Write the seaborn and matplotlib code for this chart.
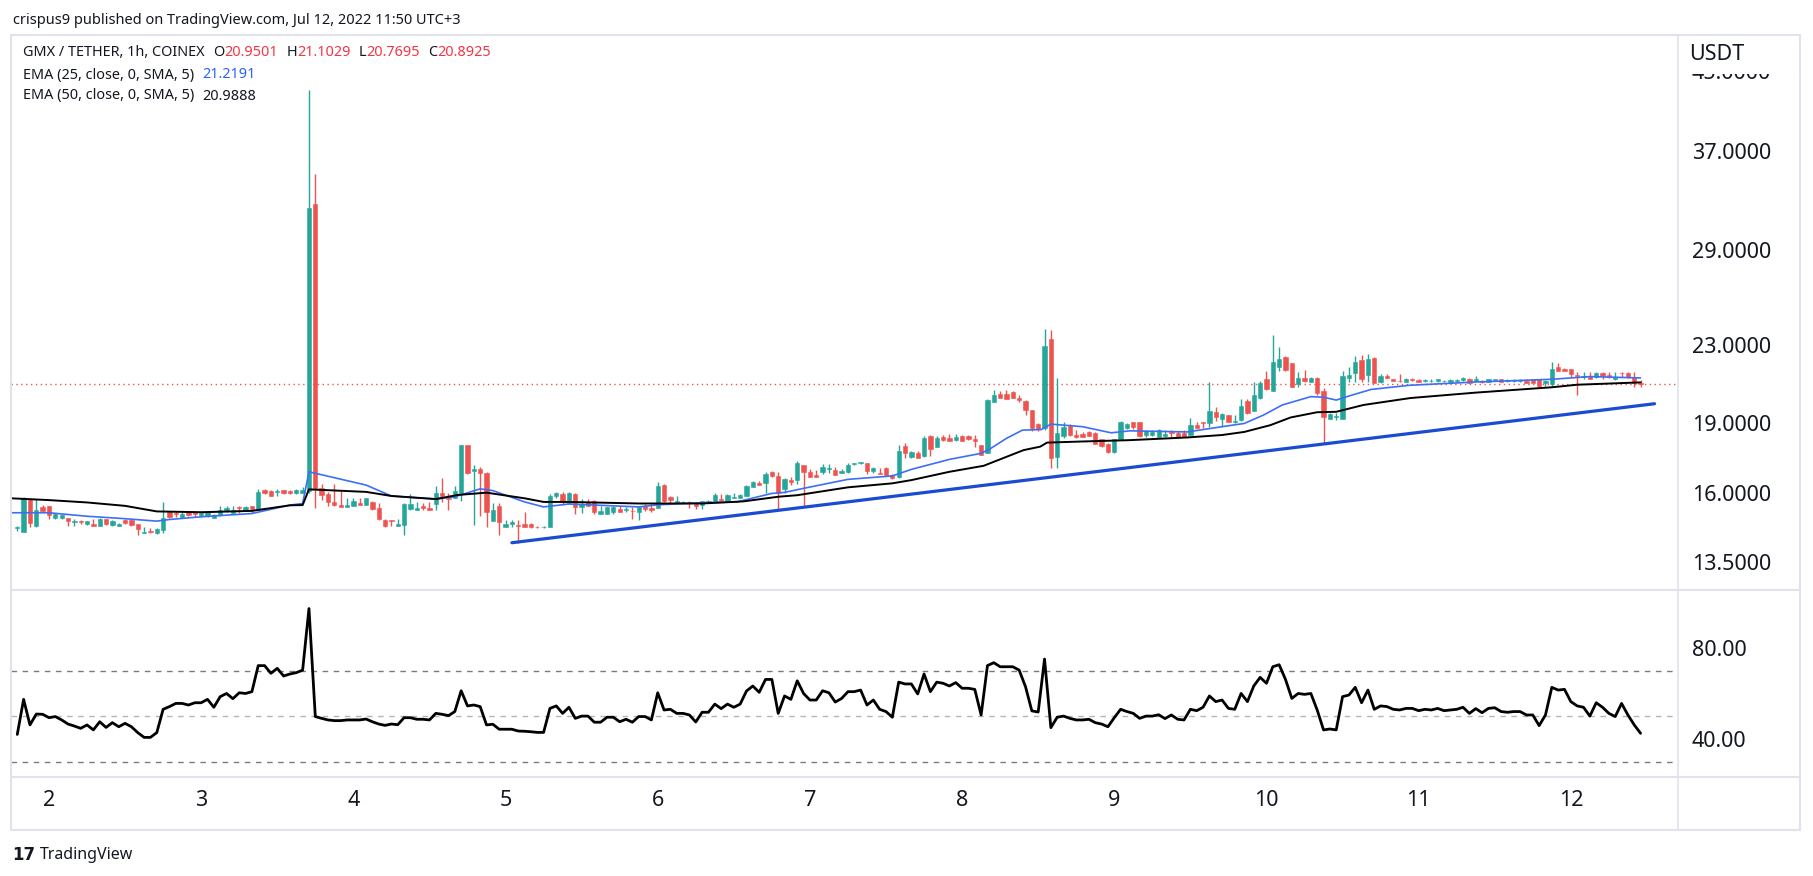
import numpy as np
import matplotlib
matplotlib.use("Agg")
import matplotlib.pyplot as plt
import seaborn as sns
from matplotlib.lines import Line2D
from matplotlib.patches import Rectangle
from matplotlib.ticker import NullLocator, FixedLocator

# ---------------- data (hourly candles, first candle = Jul 1 19:00) ----------------
opens = [14.70,14.55,15.73,14.75,15.47,15.50,15.07,15.07,15.04,14.91,14.93,14.82,14.85,14.78,15.00,14.79,14.78,14.98,14.98,14.83,
 14.52,14.59,14.50,14.61,15.27,15.25,15.10,15.27,15.27,15.16,15.12,15.07,15.16,15.32,15.25,15.47,15.32,15.50,15.37,16.12,
 16.08,16.04,16.11,16.08,16.00,16.02,16.10,32.49,16.19,15.96,15.64,15.53,15.47,15.51,15.62,15.55,15.65,15.41,14.98,14.98,
 14.75,14.80,15.38,15.37,15.50,15.42,15.58,15.99,15.83,15.83,15.99,18.00,16.88,16.97,16.83,14.95,15.50,14.73,14.85,14.79,
 14.85,14.85,14.73,14.71,14.73,15.89,15.96,15.60,15.96,15.45,15.65,15.69,15.22,15.22,15.27,15.40,15.35,15.32,15.29,15.50,
 15.42,15.42,16.32,15.86,15.63,15.63,15.65,15.58,15.55,15.65,15.66,15.77,15.69,15.83,15.82,15.89,16.26,16.42,16.39,16.85,
 16.69,16.18,16.52,16.52,17.16,16.85,16.74,16.85,16.99,16.93,16.82,16.85,17.18,17.22,17.21,16.90,16.82,17.01,16.73,16.63,
 17.96,17.49,17.67,17.52,18.40,17.93,18.34,18.31,18.22,18.40,18.42,18.25,18.00,17.67,20.02,20.40,20.40,20.50,20.22,20.05,
 19.61,18.95,18.75,23.32,17.49,18.40,18.87,18.46,18.49,18.59,18.55,18.25,18.07,17.69,18.28,18.77,19.03,19.03,18.45,18.45,
 18.37,18.40,18.59,18.55,18.55,18.45,18.92,19.04,18.98,19.50,19.18,19.37,19.03,19.14,20.07,19.58,20.18,21.16,20.57,21.81,
 22.33,21.99,20.89,21.20,21.03,21.20,20.55,19.21,19.26,19.21,21.24,21.46,22.17,21.39,22.28,21.00,21.31,21.16,21.08,21.03,
 21.16,21.11,21.06,21.04,21.04,21.04,21.03,21.06,21.11,21.16,21.08,21.08,21.01,21.11,21.14,21.06,21.04,21.04,21.08,21.14,
 21.14,20.94,20.91,21.78,21.69,21.67,21.36,21.26,21.32,21.26,21.50,21.36,21.14,21.50,21.50,21.29,20.9501]
highs = [14.75,15.85,15.80,15.77,15.53,15.52,15.25,15.22,15.06,15.02,14.99,14.96,15.00,15.04,15.03,14.98,14.88,15.03,15.00,14.85,
 14.71,14.69,14.69,15.65,15.30,15.32,15.27,15.32,15.32,15.32,15.31,15.22,15.50,15.50,15.50,15.50,15.50,15.52,16.18,16.18,
 16.12,16.15,16.14,16.11,16.15,16.25,42.96,35.00,16.36,16.05,16.36,16.10,15.82,15.80,15.80,15.83,15.68,15.60,15.00,14.99,
 15.00,15.63,15.95,15.65,15.62,15.65,16.28,16.59,16.02,16.28,18.00,18.00,17.16,17.04,16.86,15.60,15.60,14.98,14.98,14.98,
 15.27,14.86,14.75,14.75,15.96,16.05,16.05,16.05,15.99,15.78,15.78,15.75,15.50,15.47,15.50,15.50,15.47,15.47,15.50,15.58,
 15.58,16.44,16.36,15.89,15.89,15.69,15.69,15.66,15.71,15.73,16.02,15.96,15.95,16.02,15.96,16.32,16.50,16.49,16.85,16.88,
 16.85,16.59,16.66,17.32,17.16,16.96,16.93,17.18,17.18,17.04,16.96,17.21,17.24,17.26,17.24,17.04,17.00,17.04,16.76,17.99,
 18.11,17.76,17.76,18.40,18.43,18.40,18.43,18.49,18.49,18.45,18.45,18.46,18.02,20.13,20.60,20.55,20.60,20.53,20.35,20.08,
 19.64,19.01,23.95,23.86,21.20,19.03,18.94,18.70,18.59,18.62,18.58,18.28,18.11,18.29,19.11,19.01,19.06,19.06,18.69,18.69,
 18.73,18.70,18.67,18.64,18.67,19.23,19.03,19.07,21.00,19.77,19.45,19.40,19.37,20.13,20.15,21.03,21.06,21.59,23.57,22.91,
 22.39,22.03,21.55,21.64,21.29,21.29,20.69,19.45,19.45,21.59,21.81,22.39,22.44,22.50,22.31,21.43,21.43,21.18,21.43,21.21,
 21.21,21.14,21.18,21.16,21.18,21.11,21.14,21.14,21.26,21.20,21.32,21.11,21.18,21.16,21.18,21.14,21.14,21.16,21.14,21.18,
 21.18,21.11,22.06,21.99,21.73,21.71,21.53,21.53,21.53,21.53,21.53,21.53,21.53,21.53,21.53,21.55,21.1029]
lows = [14.57,14.55,14.73,14.73,15.30,15.02,15.00,15.00,14.78,14.78,14.83,14.79,14.77,14.75,14.79,14.77,14.75,14.85,14.78,14.45,
 14.50,14.50,14.47,14.50,15.07,15.10,15.07,15.12,15.10,15.10,15.10,15.05,15.12,15.29,15.22,15.25,15.30,15.25,15.35,15.97,
 15.87,15.88,15.97,15.97,15.98,16.00,16.00,15.41,15.73,15.50,15.50,15.46,15.46,15.50,15.55,15.53,15.37,14.98,14.73,14.78,
 14.75,14.43,15.37,15.35,15.37,15.35,15.37,15.66,15.37,15.83,15.71,16.76,14.79,15.12,14.73,14.93,14.43,14.73,14.73,14.15,
 14.71,14.70,14.69,14.69,14.71,15.83,15.53,15.58,15.22,15.25,15.50,15.22,15.21,15.21,15.22,15.27,15.27,15.00,14.98,15.32,
 15.27,15.42,15.66,15.60,15.60,15.60,15.42,15.40,15.40,15.64,15.65,15.68,15.68,15.82,15.81,15.89,16.23,16.32,16.02,16.66,
 15.35,16.02,16.32,16.36,15.47,16.63,16.65,16.77,16.79,16.73,16.79,16.82,17.15,17.20,16.77,16.79,16.76,16.70,16.58,16.62,
 17.43,17.46,17.45,17.49,17.52,17.90,18.19,18.16,18.16,18.17,18.22,17.93,17.55,17.64,20.00,20.18,20.13,20.20,20.02,19.37,
 18.64,18.64,18.70,17.03,17.03,18.31,18.42,18.33,18.34,18.39,18.04,17.93,17.67,17.67,18.25,18.73,18.73,18.34,18.37,18.40,
 18.36,18.37,18.34,18.34,18.34,18.43,18.75,18.75,18.83,19.10,18.86,19.03,19.01,19.10,19.42,19.55,20.13,20.60,20.55,21.59,
 21.59,20.74,20.77,21.03,21.00,20.35,18.04,19.18,19.16,19.20,21.03,21.03,21.03,21.03,20.94,20.97,21.20,21.04,21.03,21.01,
 21.08,21.01,21.01,21.01,21.01,21.01,21.01,21.03,21.08,20.94,21.04,20.97,21.00,21.09,21.01,21.01,21.01,21.03,20.96,20.96,
 20.77,20.80,20.80,21.57,21.57,21.29,20.35,21.18,21.16,21.22,21.18,21.22,21.12,21.26,21.22,20.74,20.7695]
closes = [14.73,15.80,14.88,15.35,15.32,15.16,15.22,15.15,14.95,14.96,14.89,14.94,14.78,15.02,14.82,14.93,14.85,14.88,14.81,14.64,
 14.55,14.53,14.66,15.07,15.10,15.20,15.22,15.17,15.22,15.25,15.29,15.18,15.35,15.41,15.35,15.42,15.45,15.40,16.03,16.02,
 15.90,16.10,15.99,15.99,16.12,16.12,32.15,16.19,15.92,15.66,15.56,15.47,15.53,15.69,15.56,15.81,15.40,15.00,14.75,14.93,
 14.85,15.58,15.58,15.42,15.43,15.37,15.99,15.89,15.77,16.07,18.00,16.79,16.96,16.82,15.27,15.35,14.91,14.85,14.90,14.77,
 14.73,14.71,14.71,14.73,15.89,16.02,15.65,16.02,15.45,15.58,15.52,15.29,15.32,15.45,15.45,15.29,15.38,15.30,15.47,15.40,
 15.37,16.28,15.69,15.73,15.68,15.66,15.61,15.52,15.68,15.71,15.92,15.72,15.92,15.86,15.94,16.28,16.44,16.34,16.77,16.69,
 16.02,16.55,16.44,17.24,16.85,16.66,16.66,17.07,17.03,16.74,16.88,17.16,17.22,17.25,16.88,17.01,16.77,16.71,16.59,17.75,
 17.67,17.71,17.46,18.33,17.84,18.31,18.22,18.19,18.37,18.19,18.25,18.19,17.57,20.10,20.33,20.22,20.15,20.22,20.10,19.61,
 18.78,18.72,22.95,17.45,18.56,18.83,18.45,18.34,18.37,18.42,18.07,17.96,17.69,18.25,19.04,18.95,18.83,18.40,18.64,18.59,
 18.70,18.49,18.55,18.37,18.37,18.90,18.77,18.98,19.56,19.29,19.42,19.06,19.09,19.80,19.45,20.35,20.94,20.63,22.06,22.21,
 21.64,20.77,21.20,21.06,21.22,20.47,19.29,19.42,19.32,21.32,21.37,22.06,21.18,22.21,20.97,21.32,21.24,21.08,21.04,21.16,
 21.11,21.03,21.09,21.08,21.14,21.08,21.11,21.11,21.20,20.97,21.16,21.01,21.16,21.14,21.03,21.09,21.11,21.11,20.97,20.97,
 20.80,21.04,21.67,21.59,21.59,21.43,21.31,21.32,21.18,21.50,21.32,21.26,21.26,21.46,21.26,20.95,20.8925]

rsi_values = [42.0,57.5,46.2,51.0,50.9,49.4,49.9,48.4,46.6,45.7,44.7,46.2,44.0,47.6,45.1,47.2,45.4,46.9,45.4,42.8,
 40.7,40.7,42.8,53.1,54.3,55.7,55.7,55.0,56.0,56.0,57.5,54.0,58.7,60.1,57.8,60.4,60.1,60.9,72.4,72.4,
 69.0,71.2,67.8,68.7,69.3,70.4,97.6,49.9,49.1,48.4,48.1,48.1,48.4,48.4,48.4,48.8,47.6,46.6,46.0,46.6,
 46.3,49.4,49.4,48.7,48.7,48.4,51.3,50.9,50.3,52.1,61.3,54.6,55.0,54.3,46.2,46.5,44.3,44.3,44.3,43.5,
 43.4,43.2,42.9,42.9,53.5,54.6,51.3,54.0,49.1,50.1,50.1,47.4,47.4,49.6,49.6,47.6,48.7,47.4,49.9,49.9,
 48.4,60.4,52.8,53.1,51.3,51.3,50.6,47.5,51.8,51.8,55.4,53.4,55.4,54.0,55.4,61.2,63.4,60.6,66.3,66.3,
 51.3,59.0,57.5,65.7,60.1,57.2,57.2,61.3,60.4,56.3,57.9,60.9,60.9,61.6,55.0,57.2,53.1,52.1,49.6,65.1,
 64.3,64.3,59.9,68.7,60.9,65.1,64.6,63.4,64.9,62.4,62.4,61.9,50.6,72.4,73.7,71.9,71.9,71.9,70.4,63.1,
 52.4,51.9,75.3,45.0,49.6,50.1,49.1,48.4,48.4,48.7,47.2,46.6,45.4,49.4,53.1,52.1,51.3,49.1,50.1,50.1,
 50.7,49.0,50.6,48.7,48.4,53.1,52.5,54.0,59.0,56.5,57.2,53.5,53.1,60.1,56.5,63.4,67.2,64.6,71.9,72.8,
 66.3,57.9,60.1,59.7,60.1,52.8,44.0,44.4,44.0,58.7,59.4,62.8,56.0,61.6,53.1,54.6,54.3,53.1,52.8,53.5,
 53.5,52.5,53.1,52.8,53.5,52.5,52.8,53.1,54.0,51.3,53.4,51.6,53.5,53.8,52.1,51.8,52.1,52.1,50.6,50.6,
 45.9,50.6,62.8,61.6,61.9,56.5,54.6,54.0,50.1,56.0,54.0,51.3,49.9,55.7,50.6,46.2,42.49]

ema25_hours = [-6,0,6,12,17,19,24,32,38,40,41,50,54,61,64,68,70,75,78,82,87,93,96,103,108.5,114,116,119,126,133,136,142,147,
               148.5,151,153.5,156.5,158,163,167.5,170.5,179.5,185,188.5,191.5,194.5,199,201,203,205,208.5,214.5,225,237,243,251]
ema25_values = [15.25,15.25,15.12,15.03,14.94,15.00,15.10,15.22,15.54,15.60,16.86,16.32,15.89,15.77,15.86,16.17,16.10,15.66,15.47,
                15.58,15.53,15.47,15.55,15.63,15.66,15.99,16.03,16.19,16.55,16.69,16.96,17.38,17.64,17.85,18.30,18.67,18.70,18.95,
                18.83,18.55,18.64,18.59,18.83,18.98,19.37,19.86,20.27,20.24,20.10,20.30,20.63,20.84,21.01,21.15,21.29,21.22]
ema50_hours = [-6,0,6,12,17,24,32,38,40,41,50,54,61,64.5,69,75,78,82,93,103,109.5,115,118,126,133,136,142,147.4,151,153.7,156.3,
               157.4,163,170.5,179.5,185,188.5,192.6,195.8,200,203,207.3,214.7,225,237,241,251]
ema50_values = [15.80,15.73,15.64,15.51,15.30,15.27,15.32,15.53,15.54,16.15,16.05,15.89,15.77,15.93,16.02,15.80,15.66,15.66,15.60,
                15.60,15.68,15.86,15.92,16.23,16.39,16.52,16.86,17.11,17.49,17.78,17.93,18.11,18.16,18.22,18.34,18.45,18.59,18.90,
                19.26,19.51,19.53,19.86,20.20,20.47,20.74,20.87,20.99]

trend_hours = [73.0, 253.2]
trend_values = [14.17, 19.92]
last_price = 20.8925

day_labels = ['2', '3', '4', '5', '6', '7', '8', '9', '10', '11', '12']
price_ticks = [13.5, 16, 19, 23, 29, 37, 45]
rsi_ticks = [40, 80]
rsi_levels = [70, 50, 30]

# ---------------- style ----------------
sns.set_theme(style="white")
plt.rcParams['font.family'] = ['Noto Sans', 'DejaVu Sans']
TXT = '#131722'
GREEN = '#26a69a'
RED = '#ef5350'
GRID = '#e0e3eb'

W, H = 1813, 876
fig = plt.figure(figsize=(W / 100, H / 100), dpi=100)
fig.patch.set_facecolor('white')

def fx(px):
    return px / W

def fy(py):
    return 1 - py / H

L, R = 11, 1678
TOP, SEP1, SEP2, BOT, RIGHT = 35, 590, 777, 830, 1800
axp = fig.add_axes([fx(L), fy(SEP1), fx(R - L), (SEP1 - TOP) / H])
axr = fig.add_axes([fx(L), fy(SEP2), fx(R - L), (SEP2 - SEP1) / H])

hours = np.arange(len(closes)) - 5
o = np.array(opens); h = np.array(highs); l = np.array(lows); c = np.array(closes)
cols = np.where(c >= o, GREEN, RED)

# ---------------- price pane ----------------
axp.set_yscale('log')
axp.vlines(hours, l, h, colors=cols, linewidth=1.0, zorder=3)
body_bottom = np.minimum(o, c)
body_height = np.maximum(np.abs(c - o), 0.015)
axp.bar(hours, body_height, bottom=body_bottom, width=0.68, color=cols,
        edgecolor=cols, linewidth=0.4, zorder=4)

sns.lineplot(x=ema25_hours, y=ema25_values, ax=axp, color='#3d6ef7', linewidth=1.2, zorder=5)
sns.lineplot(x=ema50_hours, y=ema50_values, ax=axp, color='black', linewidth=1.4, zorder=5)
axp.plot(trend_hours, trend_values, color='#1a4bd0', linewidth=2.3, zorder=6, solid_capstyle='round')
axp.axhline(last_price, color=RED, linestyle=(0, (1, 2.5)), linewidth=1.0, zorder=2)

axp.set_xlim(-5.99, 256.9)
axp.set_ylim(12.62, 49.17)
axp.yaxis.set_major_locator(FixedLocator(price_ticks))
axp.yaxis.set_minor_locator(NullLocator())
axp.set_yticklabels([f'{v:.4f}' for v in price_ticks])
axp.yaxis.tick_right()
axp.tick_params(axis='y', length=0, pad=10, labelsize=15.5, labelcolor=TXT)
axp.set_xticks([])
for s in axp.spines.values():
    s.set_visible(False)
axp.grid(False)

# ---------------- RSI pane ----------------
rsi_hours = np.arange(len(rsi_values)) - 5
for lev, colr in zip(rsi_levels, ['#787b86', '#b2b5be', '#787b86']):
    axr.axhline(lev, color=colr, linestyle=(0, (4, 4)), linewidth=1.0, zorder=1)
sns.lineplot(x=rsi_hours, y=rsi_values, ax=axr, color='black', linewidth=2.0, zorder=3)
axr.set_xlim(-5.99, 256.9)
axr.set_ylim(23.2, 105.8)
axr.yaxis.set_major_locator(FixedLocator(rsi_ticks))
axr.set_yticklabels([f'{v:.2f}' for v in rsi_ticks])
axr.yaxis.tick_right()
axr.tick_params(axis='y', length=0, pad=10, labelsize=15.5, labelcolor=TXT)
axr.set_xticks([24 * k for k in range(len(day_labels))])
axr.set_xticklabels(day_labels)
axr.tick_params(axis='x', length=0, pad=9, labelsize=15.5, labelcolor=TXT)
for s in axr.spines.values():
    s.set_visible(False)
axr.grid(False)
axr.set_xlabel('')
axr.set_ylabel('')
axp.set_xlabel('')
axp.set_ylabel('')

# ---------------- frame / separators ----------------
def fline(x0, y0, x1, y1, lw=1.5):
    fig.add_artist(Line2D([fx(x0), fx(x1)], [fy(y0), fy(y1)], color=GRID, linewidth=lw,
                          transform=fig.transFigure, zorder=6))

fline(L, TOP, RIGHT, TOP)
fline(L, BOT, RIGHT, BOT)
fline(L, TOP, L, BOT)
fline(RIGHT, TOP, RIGHT, BOT)
fline(R, TOP, R, BOT, 1.2)
fline(L, SEP1, RIGHT, SEP1)
fline(L, SEP2, RIGHT, SEP2)

# cover the upper half of the top price label (as in the reference)
fig.add_artist(Rectangle((fx(R + 1), fy(74)), fx(RIGHT - R - 2), (74 - TOP - 1) / H,
                         transform=fig.transFigure, facecolor='white', edgecolor='none', zorder=7))
fig.text(fx(1689), fy(54), 'USDT', fontsize=15.5, color=TXT, va='center', ha='left', zorder=8)

# ---------------- texts ----------------
fig.text(fx(13), fy(20), 'crispus9 published on TradingView.com, Jul 12, 2022 11:50 UTC+3',
         fontsize=10.5, color=TXT, va='center', ha='left')

def seq_text(x_px, y_px, parts, size=10.4):
    first_s, first_c, _ = parts[0]
    t = axp.annotate(first_s, xy=(fx(x_px), fy(y_px)), xycoords='figure fraction',
                     fontsize=size, color=first_c, va='center', ha='left', annotation_clip=False, zorder=9)
    for s, col, gap in parts[1:]:
        t = axp.annotate(s, xy=(1, 0.5), xycoords=t, xytext=(gap, 0), textcoords='offset points',
                         fontsize=size, color=col, va='center', ha='left', annotation_clip=False, zorder=9)
    return t

RV = '#f23645'
seq_text(23, 53, [('GMX / TETHER, 1h, COINEX', TXT, 0), ('O', TXT, 6), ('20.9501', RV, 0),
                  ('H', TXT, 6), ('21.1029', RV, 0), ('L', TXT, 6), ('20.7695', RV, 0),
                  ('C', TXT, 6), ('20.8925', RV, 0)])
seq_text(23, 75, [('EMA (25, close, 0, SMA, 5)', TXT, 0), ('21.2191', '#2962ff', 6)])
seq_text(23, 96, [('EMA (50, close, 0, SMA, 5)', TXT, 0), ('20.9888', TXT, 6)])
seq_text(23, 612, [('RSI (14, close, SMA, 14, 2)', TXT, 0), ('42.49', TXT, 6), ('∅', TXT, 6), ('∅', TXT, 6)])

# TradingView logo line
fig.text(fx(12), fy(855), '17', fontsize=12, fontweight='heavy', color=TXT, va='center', ha='left',
         family=['DejaVu Sans'])
fig.text(fx(40), fy(855), 'TradingView', fontsize=11.5, color=TXT, va='center', ha='left')

fig.savefig('out.png', dpi=100, facecolor='white')
